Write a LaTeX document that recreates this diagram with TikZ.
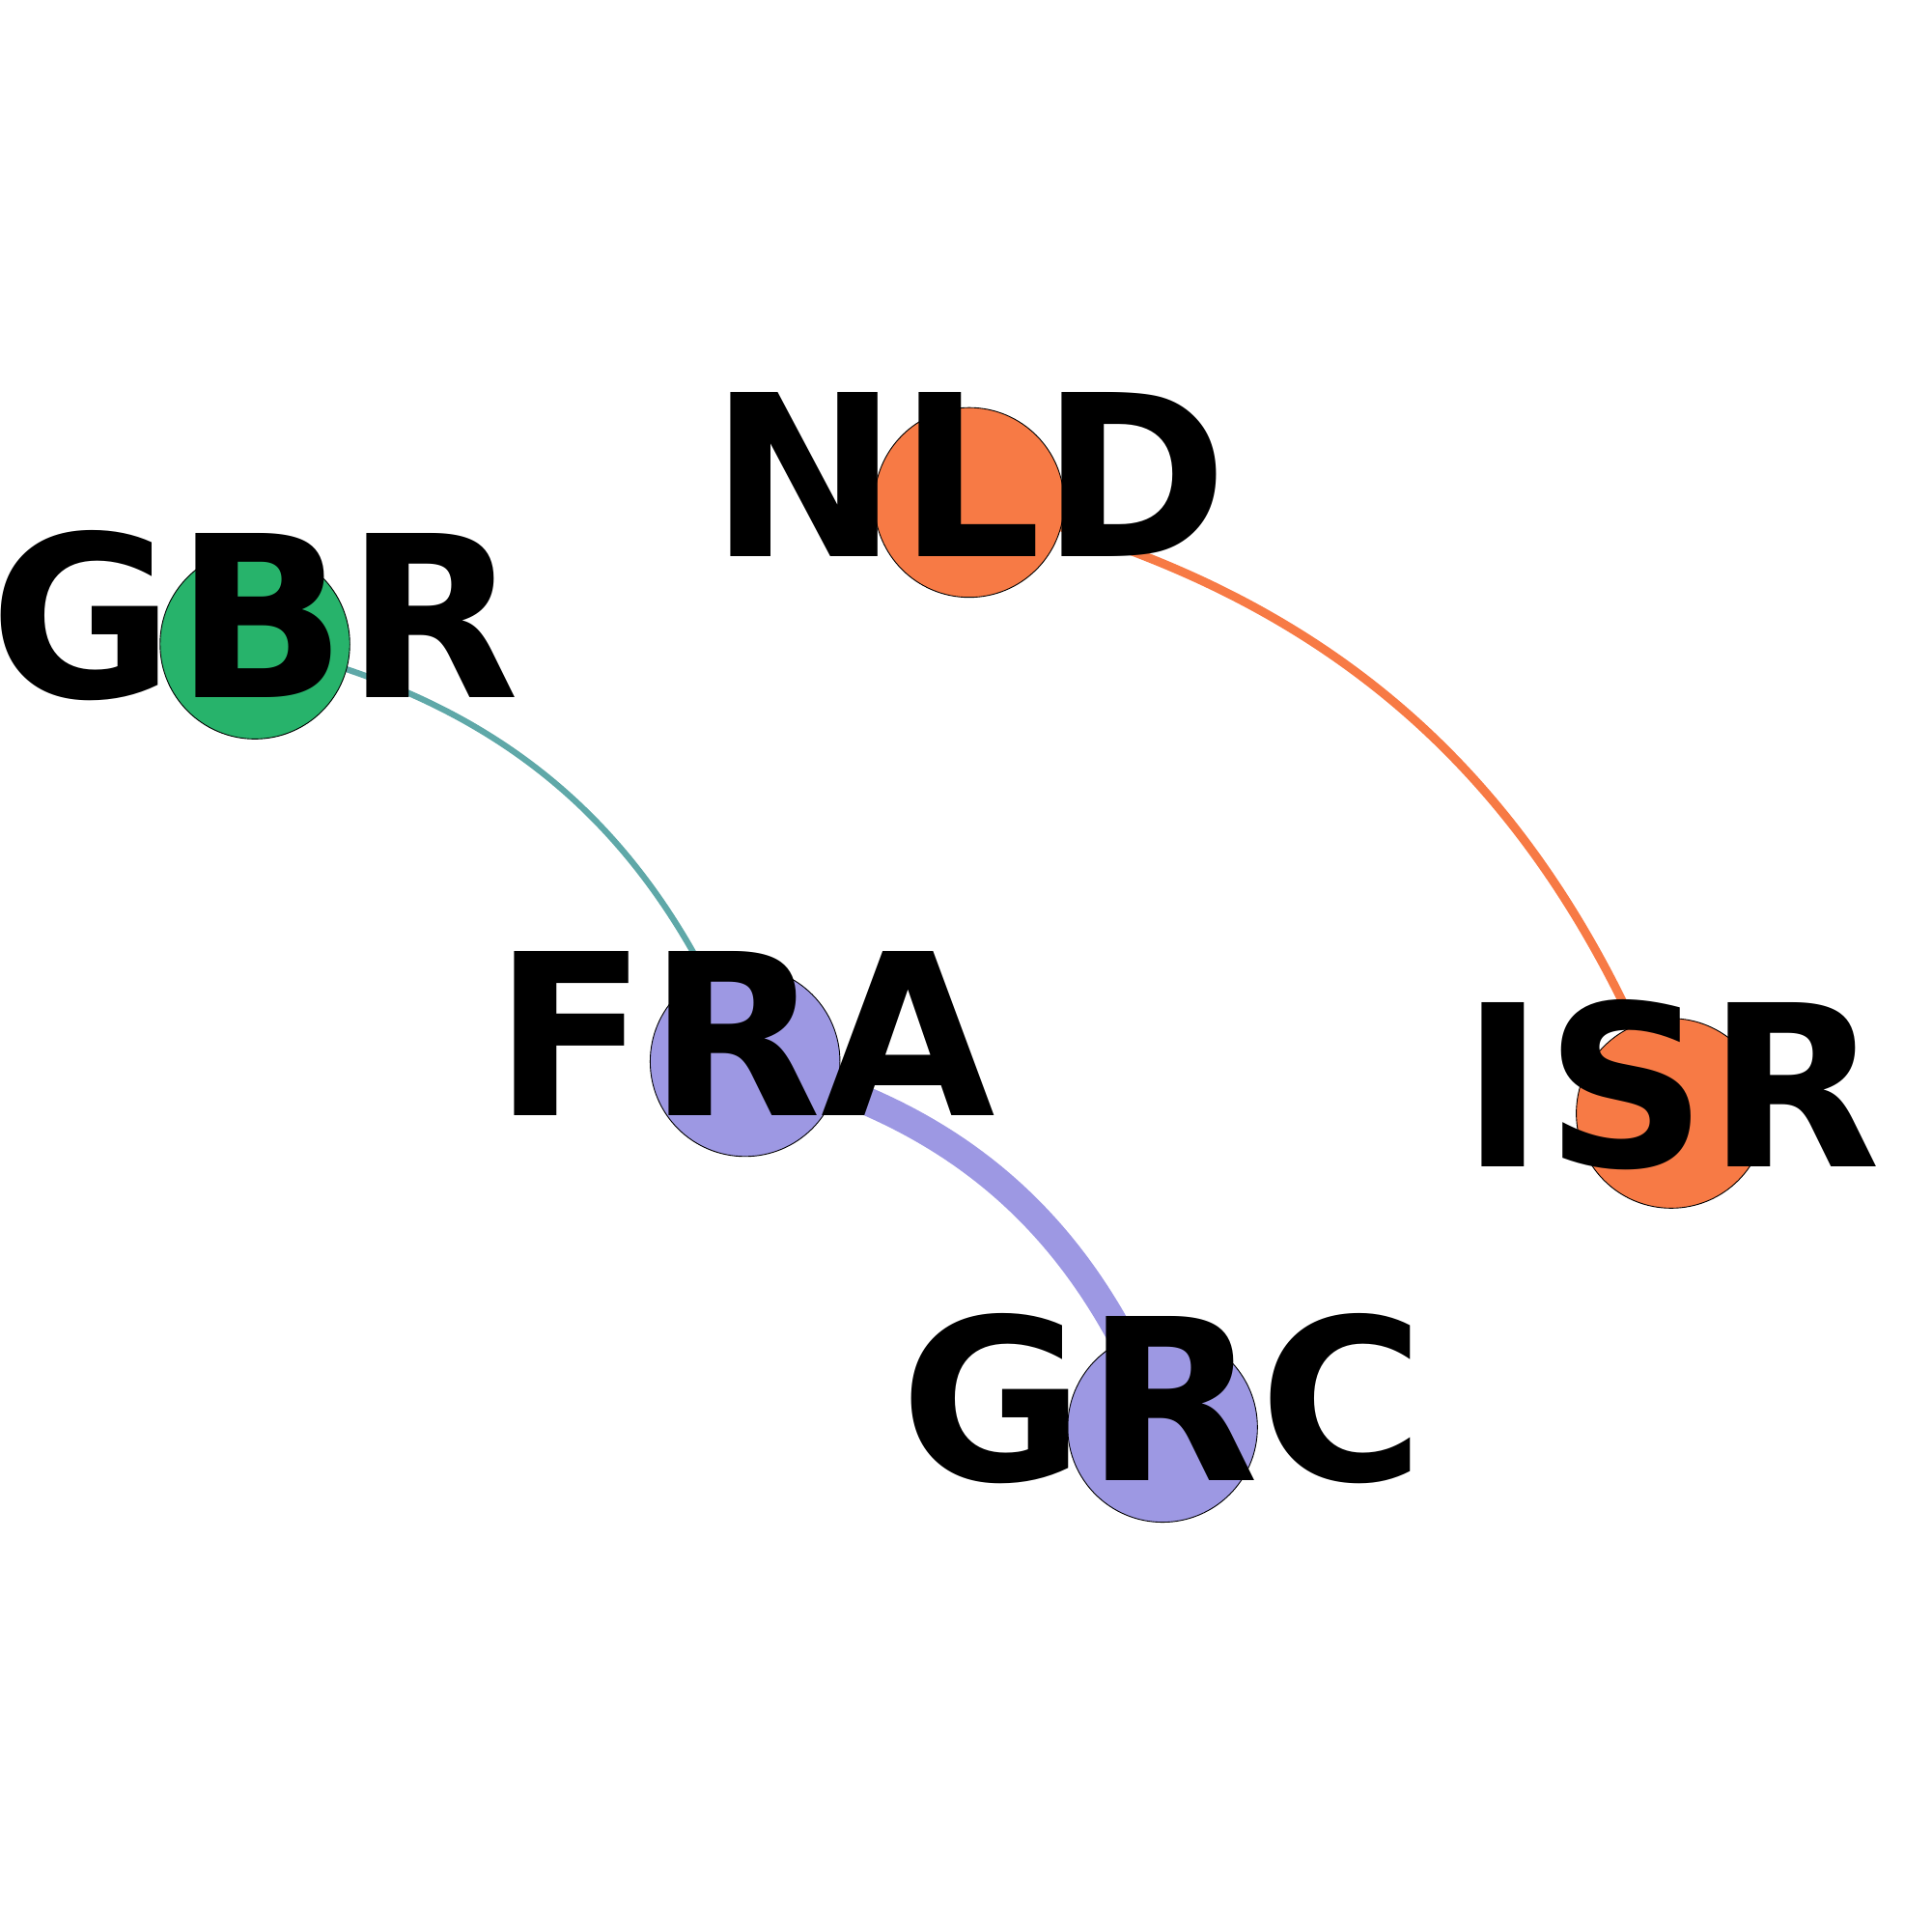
\documentclass[tikz,border=0pt]{standalone}
\usepackage{fontspec}
\setmainfont{DejaVu Sans}
\definecolor{orng}{HTML}{F77A45}
\definecolor{grn}{HTML}{27B36B}
\definecolor{lav}{HTML}{9D98E3}
\definecolor{teal}{HTML}{5FA8A8}
\begin{document}
\begin{tikzpicture}[x=0.01cm,y=-0.01cm,
  country/.style={circle,draw=black,line width=0.2pt,minimum size=1.54cm,inner sep=0},
  tag/.style={font=\bfseries\fontsize{52}{52}\selectfont,inner sep=0,yshift=0.23cm}
  ]
  \useasboundingbox (0,0) rectangle (1568,1568);
  \coordinate (gbr) at (207,523);
  \coordinate (nld) at (787,408);
  \coordinate (fra) at (605,862);
  \coordinate (grc) at (944,1159);
  \coordinate (isr) at (1357,904);
  % links
  \draw[teal,line width=1.4pt] (gbr) to[bend left=28] (fra);
  \draw[orng,line width=2pt] (nld) to[bend left=28] (isr);
  \draw[lav,line width=6.5pt] (fra) to[bend left=28] (grc);
  % countries
  \node (n-gbr) [country,fill=grn] at (gbr) {};
  \node (n-nld) [country,fill=orng] at (nld) {};
  \node (n-fra) [country,fill=lav] at (fra) {};
  \node (n-grc) [country,fill=lav] at (grc) {};
  \node (n-isr) [country,fill=orng] at (isr) {};
  \node (l-gbr) [tag] at (gbr) {GBR};
  \node (l-nld) [tag] at (nld) {NLD};
  \node (l-fra) [tag] at (fra) {FRA};
  \node (l-grc) [tag] at (grc) {GRC};
  \node (l-isr) [tag] at (isr) {ISR};
\end{tikzpicture}
\end{document}
